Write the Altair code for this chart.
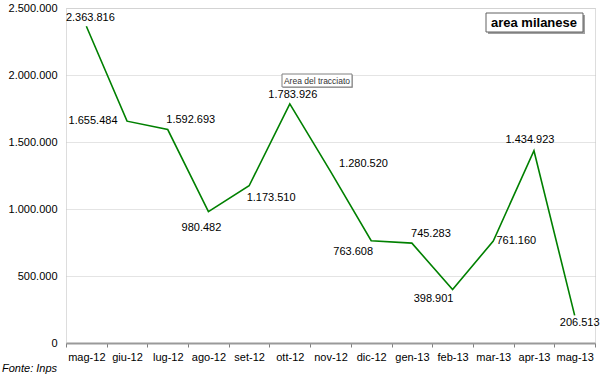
import altair as alt
import pandas as pd

months = ["mag-12", "giu-12", "lug-12", "ago-12", "set-12", "ott-12", "nov-12",
          "dic-12", "gen-13", "feb-13", "mar-13", "apr-13", "mag-13"]
values = [2363816, 1655484, 1592693, 980482, 1173510, 1783926, 1280520,
          763608, 745283, 398901, 761160, 1434923, 206513]
y_ticks = [0, 500000, 1000000, 1500000, 2000000, 2500000]

# label placement offsets (style, in pixels)
label_offsets = [(4, -8), (-34, 0), (23, -10), (-7, 16), (22, 12), (3, -9), (33, -7),
                 (-18, 11), (19, -9), (-19, 9), (23, 0), (-4, -11), (5, 8)]

df = pd.DataFrame({"month": months, "value": values})
FONT = "Liberation Sans"

x_enc = alt.X("month:O", sort=months, bandPosition=0.5,
              scale=alt.Scale(type="band", paddingInner=0, paddingOuter=0),
              axis=alt.Axis(title=None, tickBand="extent", grid=False, labelAngle=0,
                            domainColor="#9a9a9a", domainWidth=2, tickColor="#808080",
                            tickSize=4, labelPadding=4, labelFontSize=11,
                            labelColor="#000000", labelFont=FONT))
y_enc = alt.Y("value:Q", scale=alt.Scale(domain=[0, 2500000], nice=False),
              axis=alt.Axis(title=None, values=y_ticks, format=",d", domain=False,
                            ticks=False, labelPadding=9, grid=True, gridColor="#c8c8c8",
                            gridDash=[1, 1], gridWidth=1, labelFontSize=11,
                            labelColor="#000000", labelFont=FONT))

base = alt.Chart(df)
line = base.mark_line(color="#008000", strokeWidth=1.6).encode(x=x_enc, y=y_enc)

layers = [line]
for m, (dx, dy) in zip(months, label_offsets):
    layers.append(
        base.transform_filter(alt.datum.month == m)
        .mark_text(dx=dx, dy=dy, fontSize=11, font=FONT, color="#000000")
        .encode(x=x_enc, y=y_enc, text=alt.Text("value:Q", format=",d"))
    )

one = pd.DataFrame({"a": [1]})
ann = alt.Chart(one)
# title box "area milanese"
layers.append(ann.mark_rect(fill="#a0a0a0").encode(
    x=alt.value(488 - 66), x2=alt.value(585 - 66), y=alt.value(15 - 8), y2=alt.value(34 - 8)))
layers.append(ann.mark_rect(fill="#ffffff", stroke="#606060", strokeWidth=1).encode(
    x=alt.value(486 - 66), x2=alt.value(583 - 66), y=alt.value(13 - 8), y2=alt.value(32 - 8)))
layers.append(ann.mark_text(text="area milanese", fontSize=13, fontWeight="bold",
                            font=FONT, color="#000000").encode(
    x=alt.value(534 - 66), y=alt.value(23 - 8)))
# tooltip box "Area del tracciato"
layers.append(ann.mark_rect(fill="#b0b0b0").encode(
    x=alt.value(283 - 66), x2=alt.value(353 - 66), y=alt.value(75 - 8), y2=alt.value(88 - 8)))
layers.append(ann.mark_rect(fill="#ffffff", stroke="#808080", strokeWidth=1).encode(
    x=alt.value(282 - 66), x2=alt.value(352 - 66), y=alt.value(74 - 8), y2=alt.value(87 - 8)))
layers.append(ann.mark_text(text="Area del tracciato", fontSize=8.5,
                            font=FONT, color="#333333").encode(
    x=alt.value(317 - 66), y=alt.value(80.5 - 8)))
# source
layers.append(ann.mark_text(text="Fonte: Inps", fontSize=11, fontStyle="italic", align="left",
                            font=FONT, color="#000000").encode(
    x=alt.value(2 - 66), y=alt.value(369 - 8)))

chart = alt.layer(*layers).properties(
    width=529, height=335,
    autosize=alt.AutoSizeParams(type="none"),
    padding={"left": 66, "top": 8, "right": 5, "bottom": 33},
    background="#ffffff",
).configure_view(stroke=None).configure(
    locale=alt.Locale(number=alt.NumberLocale(decimal=",", thousands=".", grouping=[3],
                                              currency=["", "\u20ac"]))
)

chart.save("out.html", embed_options={"renderer": "svg", "actions": False})
